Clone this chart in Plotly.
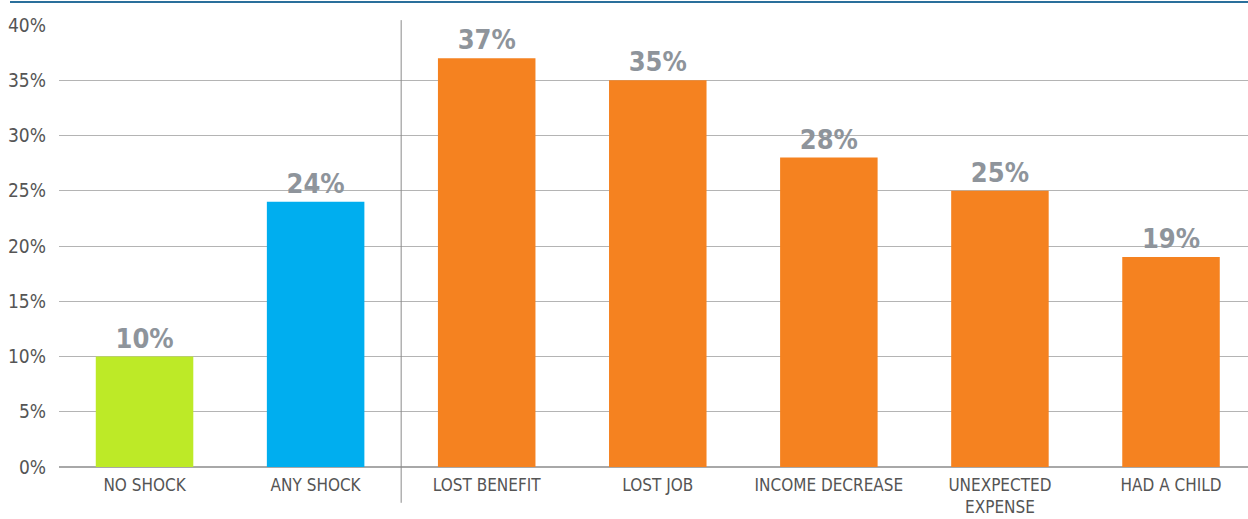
import plotly.graph_objects as go

categories = ["NO SHOCK", "ANY SHOCK", "LOST BENEFIT", "LOST JOB",
              "INCOME DECREASE", "UNEXPECTED<br>EXPENSE", "HAD A CHILD"]
values = [10, 24, 37, 35, 28, 25, 19]
bar_colors = ["#bdea27", "#00aeef", "#f58220", "#f58220",
              "#f58220", "#f58220", "#f58220"]
y_ticks = [0, 5, 10, 15, 20, 25, 30, 35, 40]

FONT = "Liberation Sans Narrow, DejaVu Sans Condensed, Arial Narrow, sans-serif"

fig = go.Figure(go.Bar(
    x=categories,
    y=values,
    marker=dict(color=bar_colors, line=dict(width=0)),
    width=0.57,
    text=[f"{v}%" for v in values],
    textposition="outside",
    textfont=dict(family=FONT, size=27, color="#8e949b", weight="bold"),
    cliponaxis=False,
    hoverinfo="skip",
))

fig.update_layout(
    width=1248, height=519,
    margin=dict(l=59, r=0, t=25, b=52),
    paper_bgcolor="white", plot_bgcolor="white",
    showlegend=False,
    bargap=0.43,
    xaxis=dict(
        range=[-0.5, 6.45],
        showgrid=False, showline=False, zeroline=False, ticks="",
        tickfont=dict(family=FONT, size=17, color="#555555"),
        ticklabelstandoff=6,
    ),
    yaxis=dict(
        range=[0, 40],
        tickvals=y_ticks,
        ticktext=[f"{t}%" for t in y_ticks],
        showgrid=True, gridcolor="#b4b4b4", gridwidth=1,
        zeroline=True, zerolinecolor="#a8a8a8", zerolinewidth=2,
        showline=False, ticks="",
        tickfont=dict(family=FONT, size=19, color="#555555"),
        ticklabelstandoff=12,
    ),
    shapes=[
        # rule across the top of the figure
        dict(type="line", xref="paper", yref="paper",
             x0=-0.0412, x1=1.0, y0=1.052, y1=1.052,
             line=dict(color="#2a6f9b", width=2)),
        # divider between the summary bars and the individual shocks
        dict(type="line", xref="x", yref="paper",
             x0=1.5, x1=1.5, y0=-0.081, y1=1.011,
             line=dict(color="#8a8a8a", width=1)),
    ],
)

fig.write_html("out.html")
